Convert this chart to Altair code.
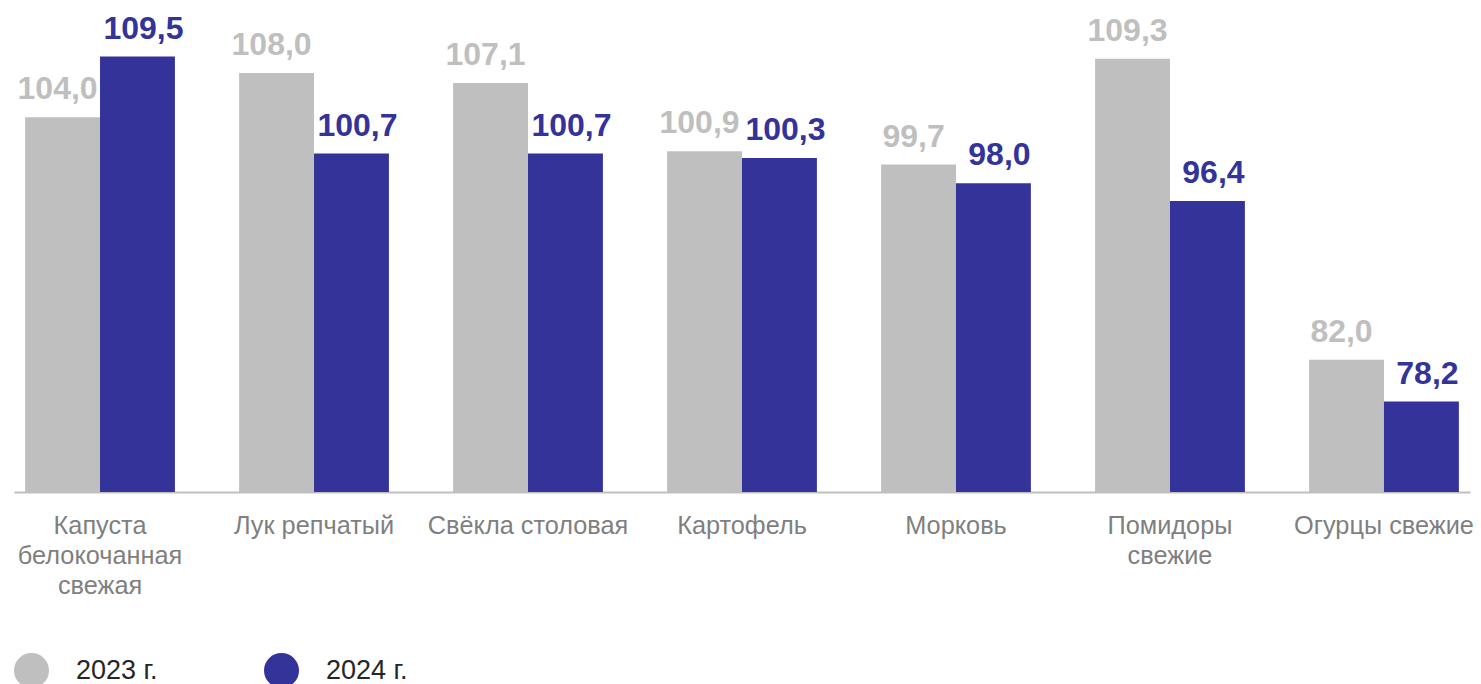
import altair as alt
import pandas as pd

categories = [
    "Капуста\nбелокочанная\nсвежая",
    "Лук репчатый",
    "Свёкла столовая",
    "Картофель",
    "Морковь",
    "Помидоры\nсвежие",
    "Огурцы свежие",
]
years = ["2023 г.", "2024 г."]
values_2023 = [104.0, 108.0, 107.1, 100.9, 99.7, 109.3, 82.0]
values_2024 = [109.5, 100.7, 100.7, 100.3, 98.0, 96.4, 78.2]
colors = ["#BFBFBF", "#333399"]
y_domain = [70, 110]

rows = []
for yr, vals in zip(years, [values_2023, values_2024]):
    for c, v in zip(categories, vals):
        rows.append({"cat": c, "year": yr, "value": v,
                     "label": f"{v:.1f}".replace(".", ",")})
df = pd.DataFrame(rows)

FONT = "Liberation Sans"

x_enc = alt.X("cat:N", sort=categories, title=None,
              scale=alt.Scale(paddingInner=0.3, paddingOuter=0.052),
              axis=alt.Axis(labelExpr="split(datum.label, '\\n')",
                            labelAngle=0, labelFontSize=25.3, labelFont=FONT,
                            labelColor="#7F7F7F", labelLineHeight=30,
                            labelPadding=21, ticks=False, domainColor="#BFBFBF",
                            domainWidth=2, labelLimit=300, grid=False))
xoff = alt.XOffset("year:N", sort=years, scale=alt.Scale(paddingInner=0, paddingOuter=0))
y_enc = alt.Y("value:Q", scale=alt.Scale(domain=y_domain, zero=False, nice=False, clamp=True),
              axis=None)
color_enc = alt.Color("year:N", sort=years,
                      scale=alt.Scale(domain=years, range=colors),
                      legend=alt.Legend(title=None, orient="none", direction="horizontal",
                                        legendX=0, legendY=602, symbolType="circle",
                                        symbolSize=1225, symbolStrokeWidth=0,
                                        symbolOpacity=1,
                                        labelFont=FONT, labelFontSize=27,
                                        labelColor="#262626", labelOffset=27,
                                        columnPadding=106, padding=0))

base = alt.Chart(df)
bars = base.mark_bar().encode(x=x_enc, xOffset=xoff, y=y_enc, color=color_enc)


def label_layer(year, dx):
    return base.transform_filter(alt.datum.year == year).mark_text(
        dy=-18, dx=dx, baseline="alphabetic", fontWeight="bold",
        fontSize=32, font=FONT).encode(
        x=x_enc, xOffset=xoff, y=y_enc, color=color_enc, text="label:N")


chart = (bars + label_layer(years[0], -5) + label_layer(years[1], 6)).properties(
    width=1456, height=441,
    autosize=alt.AutoSizeParams(type="none"),
    padding={"left": 6, "top": 43, "right": 3, "bottom": 192},
).configure(font=FONT).configure_view(stroke=None)

chart.save("out.html", embed_options={"renderer": "svg", "actions": False})
